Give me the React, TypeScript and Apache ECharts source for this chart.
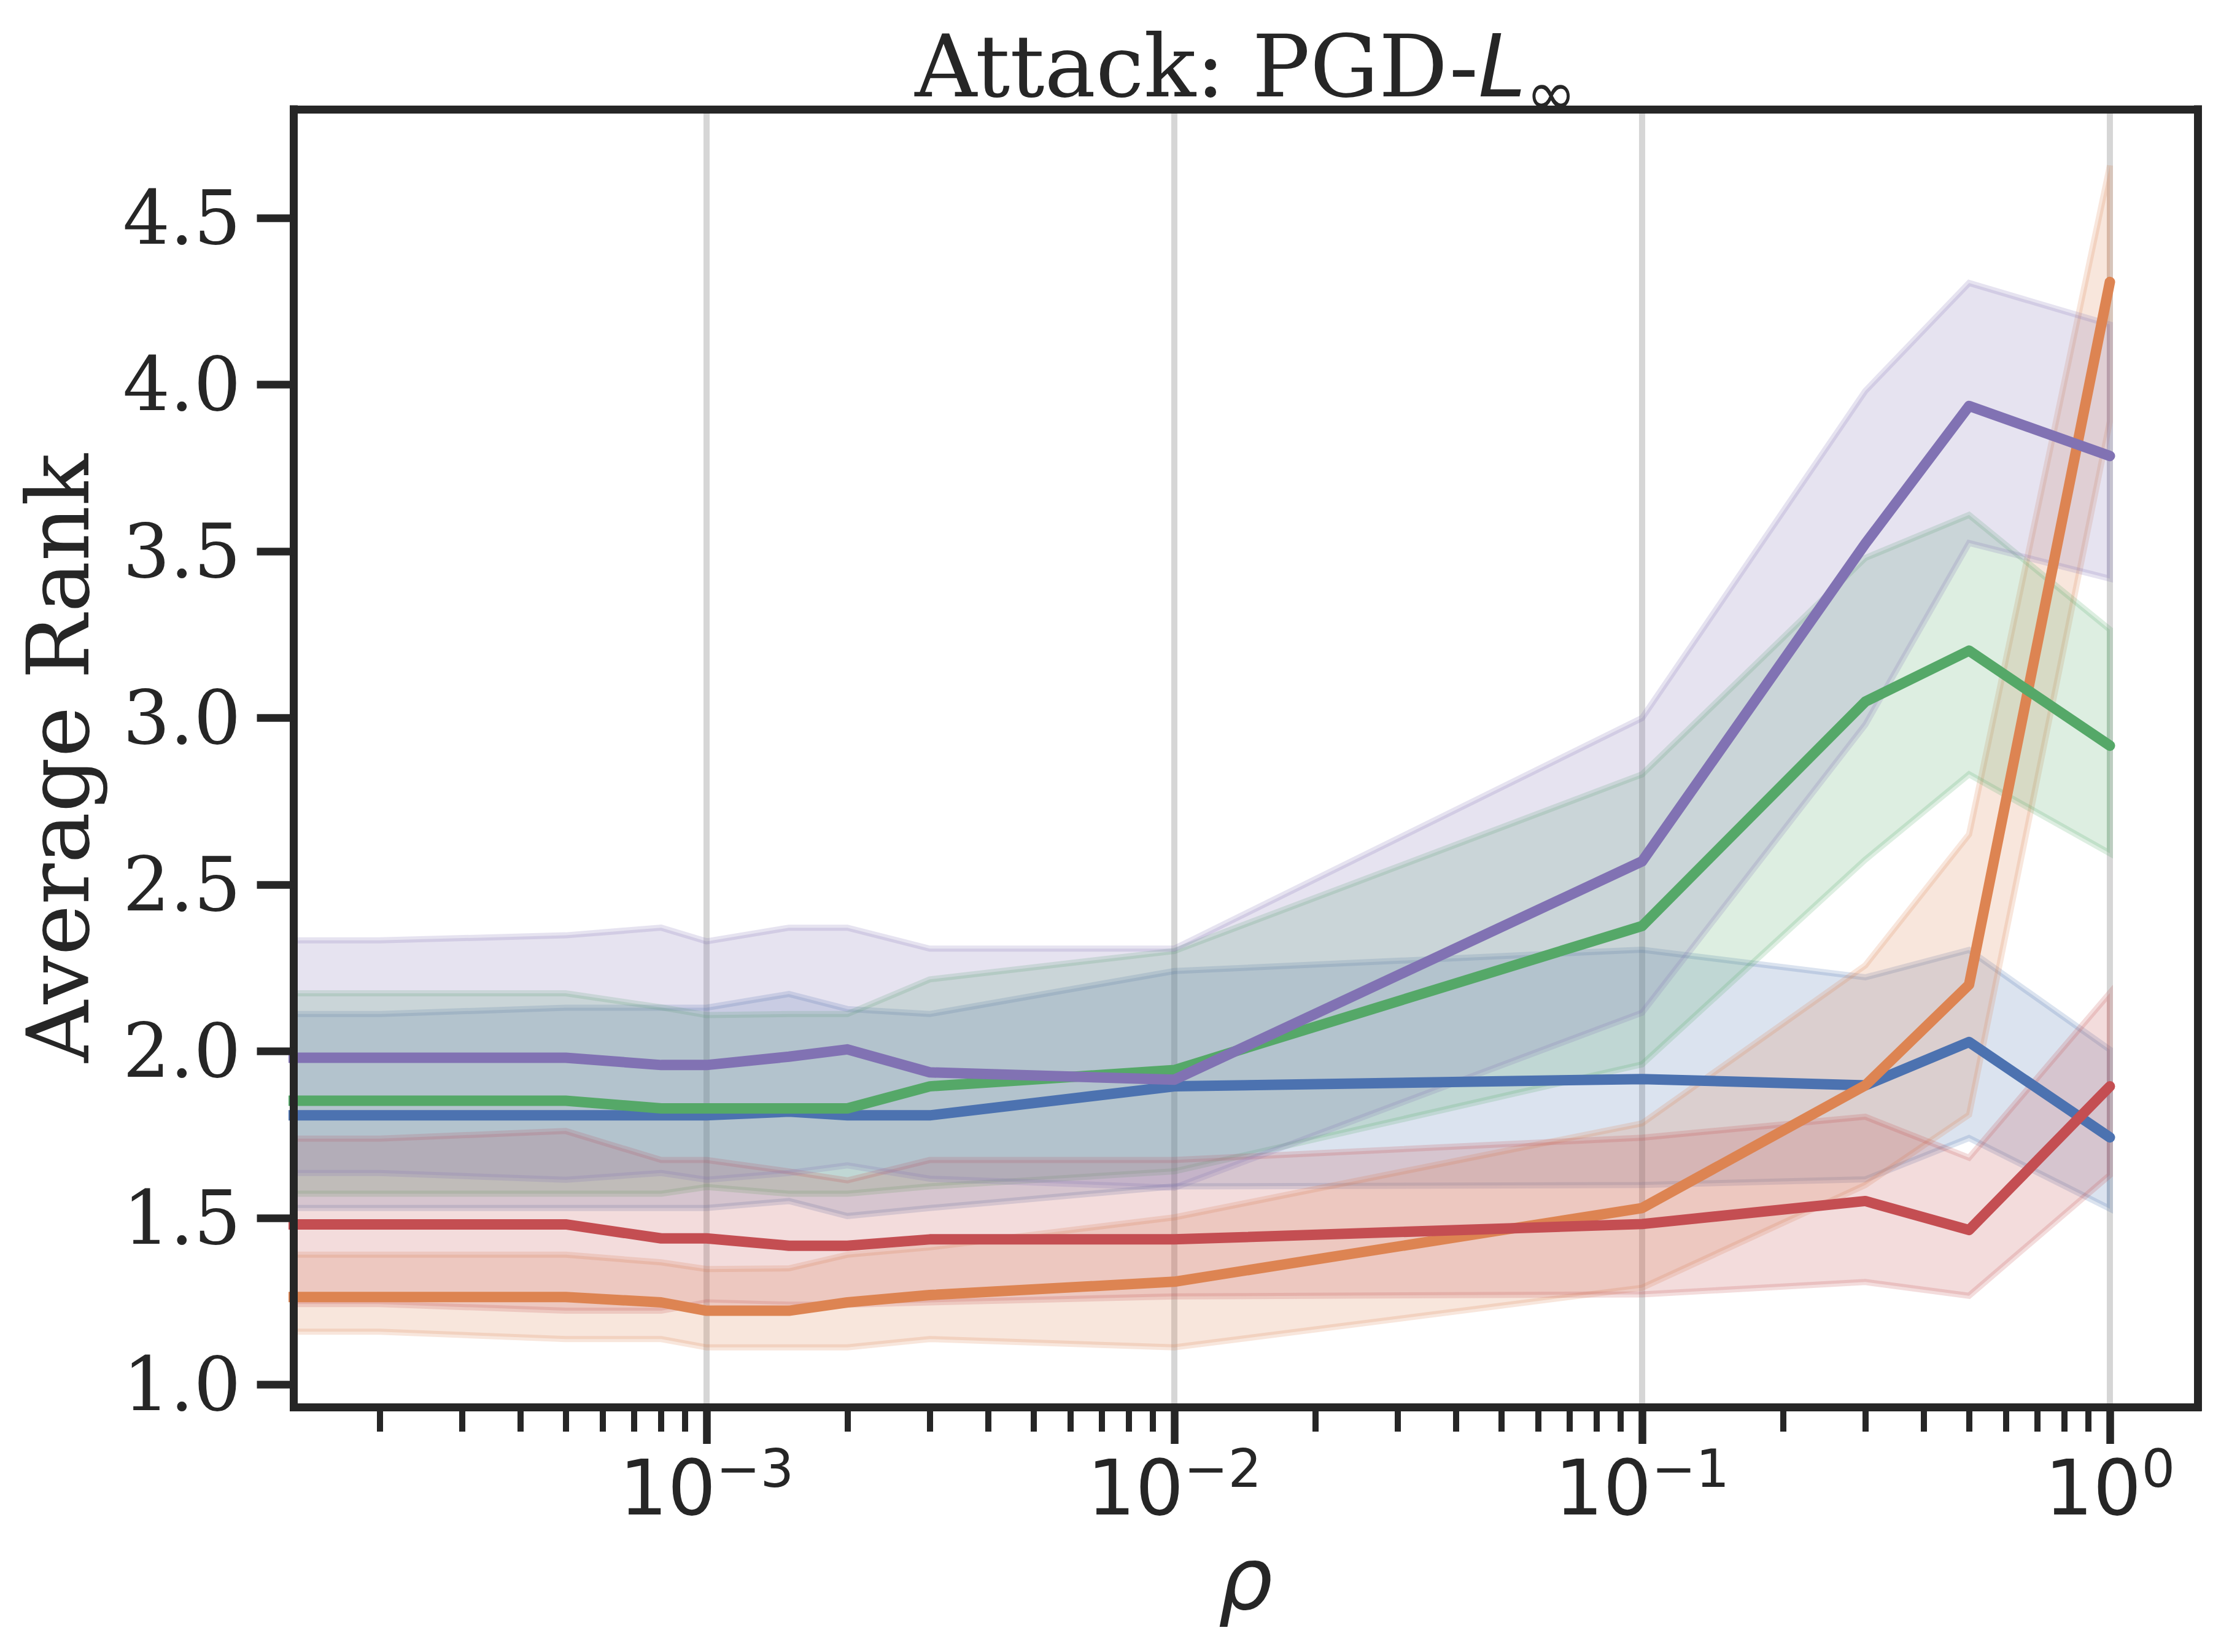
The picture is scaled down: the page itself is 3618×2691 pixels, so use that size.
import React, { useEffect, useRef } from "react";
import * as echarts from "echarts";

// ρ values (0 is drawn like matplotlib's log scale: off to the left, clipped)
const RHO = [0, 2e-4, 5e-4, 8e-4, 1e-3, 1.5e-3, 2e-3, 3e-3, 1e-2, 0.1, 0.3, 0.5, 1.0];

const BLUE_MEAN = [1.808, 1.808, 1.808, 1.808, 1.808, 1.819, 1.808, 1.808, 1.895, 1.917, 1.898, 2.028, 1.742];
const BLUE_LO = [1.53, 1.53, 1.53, 1.53, 1.53, 1.551, 1.506, 1.53, 1.595, 1.599, 1.616, 1.74, 1.528];
const BLUE_HI = [2.112, 2.112, 2.131, 2.131, 2.131, 2.172, 2.127, 2.112, 2.241, 2.305, 2.222, 2.304, 2.005];

const ORANGE_MEAN = [1.263, 1.263, 1.263, 1.247, 1.222, 1.222, 1.247, 1.269, 1.309, 1.53, 1.898, 2.2, 4.308];
const ORANGE_LO = [1.159, 1.159, 1.137, 1.137, 1.112, 1.112, 1.112, 1.137, 1.112, 1.291, 1.599, 1.81, 3.89];
const ORANGE_HI = [1.39, 1.39, 1.39, 1.367, 1.347, 1.349, 1.39, 1.412, 1.502, 1.784, 2.258, 2.651, 4.657];

const GREEN_MEAN = [1.852, 1.852, 1.852, 1.829, 1.829, 1.829, 1.829, 1.895, 1.944, 2.376, 3.049, 3.202, 2.917];
const GREEN_LO = [1.573, 1.573, 1.573, 1.573, 1.593, 1.573, 1.573, 1.595, 1.64, 1.961, 2.575, 2.831, 2.594];
const GREEN_HI = [2.174, 2.174, 2.174, 2.132, 2.109, 2.112, 2.112, 2.216, 2.301, 2.831, 3.48, 3.609, 3.265];

const RED_MEAN = [1.481, 1.481, 1.481, 1.439, 1.439, 1.417, 1.417, 1.436, 1.436, 1.482, 1.551, 1.464, 1.895];
const RED_LO = [1.242, 1.242, 1.222, 1.222, 1.247, 1.24, 1.24, 1.247, 1.265, 1.271, 1.308, 1.267, 1.629];
const RED_HI = [1.738, 1.738, 1.761, 1.674, 1.674, 1.64, 1.613, 1.674, 1.674, 1.741, 1.804, 1.681, 2.175];

const PURPLE_MEAN = [1.981, 1.981, 1.981, 1.959, 1.959, 1.984, 2.006, 1.937, 1.915, 2.57, 3.523, 3.936, 3.786];
const PURPLE_LO = [1.635, 1.635, 1.615, 1.635, 1.615, 1.635, 1.658, 1.618, 1.591, 2.116, 2.98, 3.525, 3.418];
const PURPLE_HI = [2.333, 2.333, 2.348, 2.371, 2.33, 2.371, 2.371, 2.308, 2.308, 3.0, 3.981, 4.305, 4.18];

const X_MAJOR_TICKS = [-3, -2, -1, 0]; // log10 of 1e-3 … 1e0
const Y_TICKS = [1.0, 1.5, 2.0, 2.5, 3.0, 3.5, 4.0, 4.5];

const X_MIN = -3.8825;
const X_MAX = 0.1877;
const Y_MIN = 0.933;
const Y_MAX = 4.826;
const ZERO_POS = -6;

const X_MINOR_TICKS: number[] = [];
for (let d = -4; d <= 0; d++) {
  for (let k = 2; k <= 9; k++) {
    const v = d + Math.log10(k);
    if (v > X_MIN && v < X_MAX) X_MINOR_TICKS.push(v);
  }
}

const INK = "#262626";

const SERIES = [
  { name: "blue", color: "#4c72b0", mean: BLUE_MEAN, lo: BLUE_LO, hi: BLUE_HI },
  { name: "orange", color: "#dd8452", mean: ORANGE_MEAN, lo: ORANGE_LO, hi: ORANGE_HI },
  { name: "green", color: "#55a868", mean: GREEN_MEAN, lo: GREEN_LO, hi: GREEN_HI },
  { name: "red", color: "#c44e52", mean: RED_MEAN, lo: RED_LO, hi: RED_HI },
  { name: "purple", color: "#8172b3", mean: PURPLE_MEAN, lo: PURPLE_LO, hi: PURPLE_HI },
];

const lx = (r: number) => (r > 0 ? Math.log10(r) : ZERO_POS);

function rgba(hex: string, a: number) {
  const n = parseInt(hex.slice(1), 16);
  return `rgba(${(n >> 16) & 255},${(n >> 8) & 255},${n & 255},${a})`;
}

function buildOption() {
  const gridSeries = {
    type: "custom",
    name: "grid",
    silent: true,
    z: 1,
    data: X_MAJOR_TICKS.map((v) => [v, Y_MIN]),
    renderItem: (params: any, api: any) => {
      const p = api.coord([api.value(0), api.value(1)]);
      const cs = params.coordSys;
      return {
        type: "line",
        shape: { x1: p[0], y1: cs.y, x2: p[0], y2: cs.y + cs.height },
        style: { stroke: "#d6d6d6", lineWidth: 10 },
      };
    },
  };

  const bands = SERIES.map((s) => ({
    type: "custom",
    name: s.name + " band",
    silent: true,
    clip: true,
    z: 2,
    data: RHO.map((r, i) => [lx(r), s.lo[i], s.hi[i]]),
    encode: { x: 0, y: [1, 2] },
    renderItem: (params: any, api: any) => {
      if (params.dataIndex !== RHO.length - 1) return null;
      const upper = RHO.map((r, i) => api.coord([lx(r), s.hi[i]]));
      const lower = RHO.map((r, i) => api.coord([lx(r), s.lo[i]])).reverse();
      return {
        type: "polygon",
        shape: { points: upper.concat(lower) },
        style: { fill: rgba(s.color, 0.2), stroke: rgba(s.color, 0.2), lineWidth: 10 },
      };
    },
  }));

  const lines = SERIES.map((s) => ({
    type: "line",
    name: s.name,
    silent: true,
    z: 3,
    symbol: "none",
    showSymbol: false,
    clip: true,
    data: RHO.map((r, i) => [lx(r), s.mean[i]]),
    lineStyle: { color: s.color, width: 17, cap: "round", join: "round" },
    itemStyle: { color: s.color },
  }));

  const spine = { show: true, onZero: false, lineStyle: { color: INK, width: 13, cap: "square" } };

  return {
    animation: false,
    backgroundColor: "#ffffff",
    grid: { left: 478.5, right: 38, top: 178, bottom: 399, containLabel: false },
    xAxis: [
      {
        type: "value",
        position: "bottom",
        min: X_MIN,
        max: X_MAX,
        z: 10,
        axisLine: spine,
        axisTick: { show: true, inside: false, customValues: X_MAJOR_TICKS, length: 60, lineStyle: { color: INK, width: 12.5 } },
        axisLabel: {
          show: true,
          customValues: X_MAJOR_TICKS,
          margin: 57,
          formatter: (v: number) => `{a|10}{s|${v < 0 ? "\u2212" + Math.abs(v) : String(v)}}`,
          rich: {
            a: { fontFamily: "DejaVu Sans", fontSize: 124, color: INK },
            s: { fontFamily: "DejaVu Sans", fontSize: 86, color: INK, padding: [0, 0, 63, 0] },
          },
        },
        splitLine: { show: false },
      },
      {
        type: "value",
        position: "bottom",
        min: X_MIN,
        max: X_MAX,
        z: 10,
        axisLine: { show: false, onZero: false },
        axisTick: { show: true, inside: false, customValues: X_MINOR_TICKS, length: 40, lineStyle: { color: INK, width: 10 } },
        axisLabel: { show: false },
        splitLine: { show: false },
      },
      {
        type: "value",
        position: "top",
        min: X_MIN,
        max: X_MAX,
        z: 10,
        axisLine: spine,
        axisTick: { show: false },
        axisLabel: { show: false },
        splitLine: { show: false },
      },
    ],
    yAxis: [
      {
        type: "value",
        position: "left",
        min: Y_MIN,
        max: Y_MAX,
        z: 10,
        axisLine: spine,
        axisTick: { show: true, inside: false, customValues: Y_TICKS, length: 60, lineStyle: { color: INK, width: 12.5 } },
        axisLabel: {
          show: true,
          customValues: Y_TICKS,
          margin: 86,
          formatter: (v: number) => v.toFixed(1),
          fontFamily: "DejaVu Serif",
          fontSize: 121,
          color: INK,
        },
        splitLine: { show: false },
      },
      {
        type: "value",
        position: "right",
        min: Y_MIN,
        max: Y_MAX,
        z: 10,
        axisLine: spine,
        axisTick: { show: false },
        axisLabel: { show: false },
        splitLine: { show: false },
      },
    ],
    graphic: [
      {
        type: "text",
        x: 2029,
        y: 108,
        z: 20,
        style: {
          text: "{a|Attack: PGD-}{l|L}{s|\u221e}",
          align: "center",
          verticalAlign: "middle",
          fill: INK,
          rich: {
            a: { fontFamily: "DejaVu Serif", fontSize: 140, fill: INK },
            l: { fontFamily: "DejaVu Sans", fontStyle: "italic", fontSize: 140, fill: INK },
            s: { fontFamily: "DejaVu Sans", fontSize: 98, fill: INK, padding: [88, 0, 0, 0] },
          },
        },
      },
      {
        type: "text",
        x: 95,
        y: 1235,
        rotation: Math.PI / 2,
        z: 20,
        style: {
          text: "Average Rank",
          fontFamily: "DejaVu Serif",
          fontSize: 140,
          fill: INK,
          align: "center",
          verticalAlign: "middle",
        },
      },
      {
        type: "text",
        x: 2029,
        y: 2572,
        z: 20,
        style: {
          text: "\u03c1",
          fontFamily: "DejaVu Sans",
          fontStyle: "italic",
          fontSize: 140,
          fill: INK,
          align: "center",
          verticalAlign: "middle",
        },
      },
    ],
    series: [gridSeries, ...bands, ...lines],
  };
}

export default function App() {
  const ref = useRef<HTMLDivElement>(null);
  useEffect(() => {
    if (!ref.current) return;
    const chart = echarts.init(ref.current, null, { renderer: "svg" });
    chart.setOption(buildOption() as any);
    return () => chart.dispose();
  }, []);
  return (
    <div
      ref={ref}
      style={{ position: "absolute", left: 0, top: 0, width: 3618, height: 2691, background: "#ffffff" }}
    />
  );
}
